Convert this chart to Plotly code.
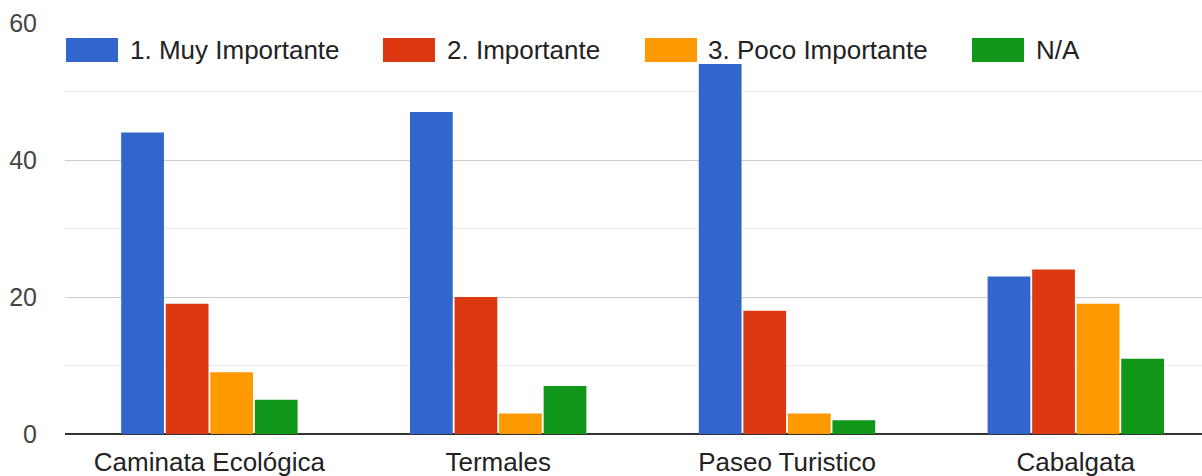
import plotly.graph_objects as go

categories = ["Caminata Ecológica", "Termales", "Paseo Turistico", "Cabalgata"]
series_names = ["1. Muy Importante", "2. Importante", "3. Poco Importante", "N/A"]
muy_importante = [44, 47, 54, 23]
importante = [19, 20, 18, 24]
poco_importante = [9, 3, 3, 19]
na_values = [5, 7, 2, 11]
colors = ["#3366cc", "#dc3912", "#ff9900", "#109618"]
y_ticks = [0, 20, 40, 60]

series_values = [muy_importante, importante, poco_importante, na_values]

W, H = 1202, 476
ML, MT, MB = 65, 23, 42
plot_w = W - ML
plot_h = H - MT - MB

FONT = "Arial, 'Liberation Sans', sans-serif"

fig = go.Figure()
for name, vals, col in zip(series_names, series_values, colors):
    fig.add_trace(go.Bar(x=categories, y=vals, name=name, marker=dict(color=col, line=dict(width=0)),
                         showlegend=False))

# custom legend (large swatches like the reference), positions in screen px
legend_rect_px = [66, 383, 645, 972]
legend_text_px = [128, 445, 706, 1034]
def px2x(px):
    return (px - ML) / plot_w
def py2y(py):
    return (H - MB - py) / plot_h

for name, col, rx, tx in zip(series_names, colors, legend_rect_px, legend_text_px):
    fig.add_shape(type="rect", xref="paper", yref="paper",
                  x0=px2x(rx), x1=px2x(rx + 52), y0=py2y(62), y1=py2y(38),
                  fillcolor=col, line=dict(width=0), layer="above")
    fig.add_annotation(xref="paper", yref="paper", x=px2x(tx), y=py2y(50),
                       text=name, showarrow=False, xanchor="left", yanchor="middle",
                       font=dict(family=FONT, size=26, color="#222222"))

fig.update_layout(
    width=W, height=H,
    margin=dict(l=ML, r=0, t=MT, b=MB, pad=0, autoexpand=False),
    paper_bgcolor="white", plot_bgcolor="white",
    barmode="group", bargap=0.383, bargroupgap=0.04,
    font=dict(family=FONT, size=26, color="#444444"),
    xaxis=dict(range=[-0.5, 3.437], showgrid=False, showline=False, ticks="", automargin=False,
               tickfont=dict(size=26, color="#222222"), ticklabelstandoff=10),
    yaxis=dict(range=[0, 60], tickvals=y_ticks, showgrid=True, gridcolor="#cccccc", gridwidth=1,
               minor=dict(dtick=10, showgrid=True, gridcolor="#ebebeb", gridwidth=1),
               zeroline=True, zerolinecolor="#333333", zerolinewidth=2, automargin=False,
               showline=False, ticks="", tickfont=dict(size=25, color="#444444"),
               ticklabelstandoff=27),
)

fig.write_html("out.html", config={"displayModeBar": False},
               post_script="document.body.style.margin='0';document.body.style.overflow='hidden';")
